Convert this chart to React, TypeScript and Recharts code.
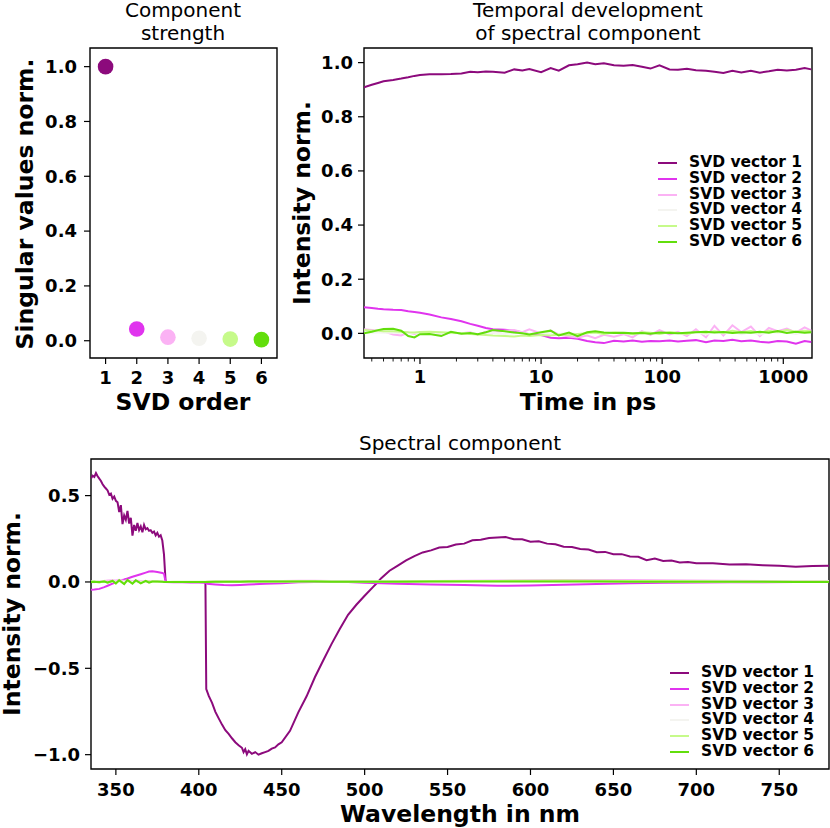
import React from 'react';
import { ScatterChart, Scatter, Cell, LineChart, Line, XAxis, YAxis, ReferenceArea } from 'recharts';

const FONT = '"DejaVu Sans", Verdana, sans-serif';
const COLORS = ['#8c0a7c', '#e034ee', '#fbb2f4', '#f4f4f0', '#c6fa8a', '#62de0c'];
const NAMES = ['SVD vector 1', 'SVD vector 2', 'SVD vector 3', 'SVD vector 4', 'SVD vector 5', 'SVD vector 6'];

// component strength
const svdOrder = [1, 2, 3, 4, 5, 6];
const singularValues = [1.0, 0.043, 0.013, 0.009, 0.006, 0.004];

// temporal development, time in ps
const times = [0.345, 0.4, 0.45, 0.5, 0.6, 0.7, 0.8, 0.9, 1, 1.2, 1.5, 1.8, 2.2, 2.6, 3, 3.5, 4, 5, 6, 7, 8, 10, 12, 14, 17, 20, 24, 28, 33, 40, 48, 57, 68, 80, 95, 115, 135, 160, 190, 230, 270, 320, 380, 450, 540, 640, 760, 900, 1070, 1270, 1500, 1700];
const temporal1 = [0.909, 0.918, 0.925, 0.931, 0.936, 0.941, 0.946, 0.951, 0.954, 0.957, 0.957, 0.958, 0.96, 0.966, 0.964, 0.967, 0.966, 0.963, 0.975, 0.971, 0.976, 0.965, 0.98, 0.97, 0.99, 0.994, 1.0, 0.994, 0.998, 0.99, 0.988, 0.991, 0.985, 0.978, 0.99, 0.975, 0.974, 0.977, 0.972, 0.97, 0.966, 0.962, 0.97, 0.964, 0.97, 0.963, 0.968, 0.974, 0.971, 0.974, 0.98, 0.975];
const temporal2 = [0.096, 0.094, 0.091, 0.089, 0.087, 0.086, 0.082, 0.079, 0.076, 0.07, 0.059, 0.053, 0.045, 0.035, 0.028, 0.02, 0.015, 0.013, 0.01, 0.003, -0.003, -0.006, -0.016, -0.018, -0.016, -0.02, -0.028, -0.033, -0.036, -0.027, -0.03, -0.026, -0.031, -0.028, -0.029, -0.026, -0.03, -0.027, -0.025, -0.033, -0.026, -0.028, -0.024, -0.029, -0.026, -0.031, -0.034, -0.028, -0.03, -0.038, -0.028, -0.032];
const temporal3 = [0.015, 0.012, 0.01, 0.008, -0.004, -0.008, 0.003, -0.002, 0.004, 0.001, -0.003, 0.002, 0.0, 0.004, -0.005, 0.006, 0.002, 0.01, 0.012, 0.004, 0.015, 0.0, 0.01, -0.004, -0.012, -0.015, -0.008, -0.018, -0.005, -0.012, -0.003, -0.015, 0.008, -0.006, 0.012, -0.004, 0.006, -0.01, 0.015, -0.015, 0.028, -0.008, 0.03, 0.005, 0.025, -0.01, 0.02, 0.008, 0.018, 0.003, 0.022, 0.01];
const temporal4 = [0.004, 0.003, 0.003, 0.002, 0.002, 0.001, 0.0, 0.001, 0.002, 0.0, -0.001, 0.001, 0.0, 0.002, -0.002, 0.001, 0.003, -0.002, 0.0, 0.002, -0.001, 0.003, 0.0, -0.002, 0.002, -0.003, 0.001, 0.004, -0.002, 0.002, 0.0, -0.003, 0.003, 0.001, -0.002, 0.004, 0.0, -0.003, 0.005, -0.004, 0.006, 0.0, 0.007, -0.003, 0.005, -0.005, 0.006, 0.002, 0.004, -0.002, 0.005, 0.003];
const temporal5 = [0.012, 0.01, 0.01, 0.008, 0.008, 0.006, 0.004, 0.003, 0.005, 0.006, 0.004, 0.002, 0.0, -0.002, -0.004, -0.006, -0.008, -0.01, -0.012, -0.008, -0.01, -0.006, -0.008, -0.004, -0.006, -0.002, 0.0, 0.003, -0.002, 0.004, 0.001, -0.003, 0.004, 0.002, -0.002, 0.005, 0.001, -0.002, 0.006, 0.002, 0.008, 0.003, 0.01, 0.004, 0.009, 0.002, 0.01, 0.005, 0.012, 0.006, 0.01, 0.008];
const temporal6 = [0.0, 0.006, 0.012, 0.016, 0.017, 0.01, -0.01, -0.015, -0.003, -0.002, -0.01, 0.006, -0.001, 0.001, -0.003, 0.004, 0.012, 0.008, 0.003, 0.0, -0.004, 0.004, 0.01, -0.008, 0.003, -0.01, 0.004, 0.008, 0.003, 0.001, 0.002, 0.0, 0.001, -0.001, 0.003, 0.001, 0.0, 0.002, 0.004, 0.006, 0.003, 0.005, 0.001, 0.004, 0.002, 0.006, 0.002, 0.009, 0.001, 0.006, 0.002, 0.004];
const timeMajor = [1, 10, 100, 1000];
const timeMinor = [0.4, 0.5, 0.6, 0.7, 0.8, 0.9, 2, 3, 4, 5, 6, 7, 8, 9, 20, 30, 40, 50, 60, 70, 80, 90, 200, 300, 400, 500, 600, 700, 800, 900];

// spectral component, wavelength in nm
const wavelength1 = [335, 336, 337, 338, 339, 340, 341, 342, 343, 344, 345, 346, 347, 348, 349, 350, 351, 352, 353, 354, 355, 356, 357, 358, 359, 360, 361, 362, 363, 364, 365, 366, 367, 368, 369, 370, 371, 372, 373, 374, 375, 376, 377, 378, 379, 380, 390, 404, 404.5, 406, 408, 410, 412, 414, 416, 418, 420, 422, 424, 426, 427, 428, 429, 430, 432, 434, 436, 438, 440, 442, 444, 446, 448, 450, 455, 460, 465, 470, 475, 480, 485, 490, 495, 500, 505, 508, 510, 515, 520, 525, 530, 535, 540, 545, 550, 555, 560, 565, 570, 575, 580, 585, 590, 595, 600, 605, 610, 615, 620, 625, 630, 635, 640, 645, 650, 655, 660, 665, 670, 675, 680, 685, 690, 695, 700, 710, 720, 730, 740, 750, 760, 770, 780];
const spectral1 = [0.6, 0.615, 0.608, 0.63, 0.612, 0.598, 0.585, 0.566, 0.552, 0.541, 0.53, 0.505, 0.512, 0.482, 0.495, 0.47, 0.462, 0.405, 0.445, 0.335, 0.385, 0.36, 0.412, 0.338, 0.372, 0.268, 0.33, 0.296, 0.342, 0.3, 0.322, 0.288, 0.33, 0.305, 0.312, 0.296, 0.3, 0.285, 0.292, 0.27, 0.284, 0.262, 0.27, 0.24, 0.16, 0.0, 0.0, 0.0, -0.62, -0.66, -0.7, -0.752, -0.79, -0.826, -0.858, -0.88, -0.905, -0.928, -0.945, -0.96, -0.985, -0.968, -0.998, -0.978, -0.995, -0.985, -1.0, -0.992, -0.985, -0.978, -0.965, -0.958, -0.94, -0.928, -0.862, -0.755, -0.662, -0.552, -0.455, -0.36, -0.272, -0.19, -0.132, -0.08, -0.03, 0.0, 0.022, 0.065, 0.095, 0.125, 0.15, 0.171, 0.183, 0.199, 0.203, 0.217, 0.222, 0.241, 0.245, 0.254, 0.257, 0.26, 0.248, 0.247, 0.233, 0.236, 0.222, 0.218, 0.204, 0.203, 0.191, 0.188, 0.172, 0.174, 0.16, 0.161, 0.148, 0.146, 0.126, 0.136, 0.122, 0.124, 0.113, 0.116, 0.108, 0.109, 0.101, 0.102, 0.097, 0.094, 0.088, 0.092, 0.094, 0.092];
const wavelength = [335, 337, 340, 343, 345, 348, 350, 352, 355, 357, 360, 362, 365, 368, 370, 372, 375, 378, 379, 380, 385, 390, 395, 400, 404, 405, 410, 415, 420, 425, 430, 440, 450, 460, 470, 480, 490, 500, 520, 540, 560, 580, 600, 620, 640, 660, 680, 700, 720, 740, 760, 780];
const spectral2 = [-0.045, -0.044, -0.04, -0.03, -0.022, -0.01, -0.002, 0.006, 0.014, 0.02, 0.03, 0.036, 0.045, 0.054, 0.06, 0.062, 0.058, 0.052, 0.048, 0.0, -0.002, -0.002, -0.003, -0.003, -0.004, -0.01, -0.014, -0.018, -0.019, -0.017, -0.015, -0.011, -0.007, -0.002, 0.0, 0.001, 0.0, -0.004, -0.01, -0.015, -0.018, -0.022, -0.02, -0.016, -0.012, -0.008, -0.005, -0.003, -0.002, -0.001, 0.0, 0.0];
const spectral3 = [0.0, -0.002, 0.004, 0.006, 0.008, 0.01, 0.008, 0.012, 0.006, 0.01, 0.004, 0.008, 0.006, 0.004, 0.006, 0.004, 0.003, 0.002, 0.002, 0.001, 0.0, 0.0, 0.0, 0.0, 0.0, 0.001, 0.002, 0.003, 0.004, 0.004, 0.005, 0.006, 0.006, 0.007, 0.007, 0.006, 0.005, 0.004, 0.004, 0.005, 0.007, 0.008, 0.01, 0.012, 0.012, 0.011, 0.01, 0.008, 0.007, 0.006, 0.006, 0.006];
const spectral4 = [0.002, 0.001, 0.002, 0.001, 0.0, 0.002, 0.001, 0.0, 0.001, 0.002, 0.001, 0.0, 0.001, 0.001, 0.0, 0.001, 0.001, 0.0, 0.0, 0.0, 0.0, 0.0, 0.0, 0.0, 0.0, 0.0, 0.001, 0.001, 0.001, 0.002, 0.002, 0.002, 0.003, 0.003, 0.002, 0.002, 0.002, 0.001, 0.001, 0.002, 0.002, 0.003, 0.003, 0.003, 0.002, 0.002, 0.002, 0.001, 0.001, 0.001, 0.001, 0.001];
const spectral5 = [0.002, 0.003, -0.004, 0.006, -0.006, 0.008, -0.008, 0.01, -0.01, 0.008, -0.008, 0.006, -0.004, 0.004, 0.002, 0.002, 0.001, 0.001, 0.0, 0.0, 0.001, 0.001, 0.001, 0.001, 0.001, 0.002, 0.002, 0.002, 0.002, 0.003, 0.003, 0.003, 0.003, 0.004, 0.004, 0.003, 0.003, 0.003, 0.004, 0.004, 0.005, 0.006, 0.007, 0.008, 0.007, 0.006, 0.005, 0.004, 0.003, 0.003, 0.002, 0.002];
const spectral6 = [0.0, 0.001, 0.0, 0.002, -0.003, 0.006, -0.008, 0.01, -0.012, 0.012, -0.01, 0.01, -0.008, 0.006, -0.004, 0.003, 0.002, 0.001, 0.0, 0.0, 0.0, 0.0, 0.0, 0.0, 0.0, 0.0, 0.001, 0.001, 0.001, 0.001, 0.002, 0.002, 0.002, 0.002, 0.002, 0.001, 0.001, 0.001, 0.001, 0.002, 0.002, 0.002, 0.002, 0.002, 0.002, 0.001, 0.001, 0.001, 0.001, 0.001, 0.0, 0.0];

const strengthPts = svdOrder.map((x, i) => ({ x, y: singularValues[i] }));
const timeRows = times.map((t, i) => ({
  t,
  v1: temporal1[i], v2: temporal2[i], v3: temporal3[i],
  v4: temporal4[i], v5: temporal5[i], v6: temporal6[i],
}));
const spectrum1 = wavelength1.map((x, i) => ({ x, y: spectral1[i] }));
const spectraRest = [spectral2, spectral3, spectral4, spectral5, spectral6].map((s) =>
  wavelength.map((x, i) => ({ x, y: s[i] }))
);

const tickStyle = { fontFamily: FONT, fontSize: 18, fontWeight: 'bold', fill: '#000' };
const tickLine = { stroke: '#000', strokeWidth: 1.2 };
const fmt1 = (v: number) => (v < 0 ? '\u2212' + Math.abs(v).toFixed(1) : v.toFixed(1));

const Dot = (p: any) => <circle cx={p.cx} cy={p.cy} r={7.8} fill={p.fill} />;

const LogTick = (p: any) => {
  const { x, y, payload } = p;
  const major = timeMajor.includes(payload.value);
  return (
    <g>
      <line x1={x} x2={x} y1={y} y2={y + (major ? 6 : 3.5)} stroke="#000" strokeWidth={major ? 1.2 : 0.9} />
      {major && (
        <text x={x} y={y + 12} dy="0.71em" textAnchor="middle" {...tickStyle}>
          {payload.value}
        </text>
      )}
    </g>
  );
};

const LegendBox = ({ left, top }: { left: number; top: number }) => (
  <div style={{ position: 'absolute', left, top, fontFamily: FONT, fontWeight: 'bold', fontSize: 15.5 }}>
    {NAMES.map((n, i) => (
      <div key={n} style={{ display: 'flex', alignItems: 'center', height: 15.9 }}>
        <svg width={19} height={4} style={{ display: 'block' }}>
          <line x1={0} x2={19} y1={2} y2={2} stroke={COLORS[i]} strokeWidth={2} />
        </svg>
        <span style={{ marginLeft: 12, lineHeight: '15.9px', whiteSpace: 'nowrap' }}>{n}</span>
      </div>
    ))}
  </div>
);

export default function App() {
  return (
    <div style={{ position: 'absolute', left: 0, top: 0, width: 830, height: 828, background: '#fff', overflow: 'hidden' }}>
      {/* component strength */}
      <div style={{ position: 'absolute', left: 0, top: 0 }}>
        <ScatterChart width={290} height={420} margin={{ top: 48, right: 13, bottom: 32, left: 0 }}>
          <XAxis type="number" dataKey="x" domain={[0.5, 6.5]} ticks={svdOrder} allowDataOverflow interval={0}
            axisLine={false} tickSize={6} tickMargin={7} tickLine={tickLine} tick={tickStyle} height={30} />
          <YAxis type="number" dataKey="y" domain={[-0.063, 1.068]} ticks={[0, 0.2, 0.4, 0.6, 0.8, 1.0]} allowDataOverflow interval={0}
            tickFormatter={fmt1} axisLine={false} tickSize={6} tickMargin={7} tickLine={tickLine} tick={tickStyle} width={90} />
          <Scatter data={strengthPts} isAnimationActive={false} shape={Dot}>
            {strengthPts.map((_, i) => <Cell key={i} fill={COLORS[i]} />)}
          </Scatter>
          <ReferenceArea x1={0.5} x2={6.5} y1={-0.063} y2={1.068} fill="none" stroke="#000" strokeWidth={1.4} />
        </ScatterChart>
      </div>

      {/* temporal development */}
      <div style={{ position: 'absolute', left: 290, top: 0 }}>
        <LineChart width={540} height={420} data={timeRows} margin={{ top: 48, right: 18, bottom: 32, left: 0 }}>
          <XAxis type="number" dataKey="t" scale="log" domain={[0.345, 1726]} allowDataOverflow interval={0}
            ticks={[...timeMinor, ...timeMajor].sort((a, b) => a - b)} axisLine={false} tickLine={false}
            tickSize={0} tickMargin={0} tick={LogTick} height={30} />
          <YAxis type="number" domain={[-0.091, 1.054]} ticks={[0, 0.2, 0.4, 0.6, 0.8, 1.0]} allowDataOverflow interval={0}
            tickFormatter={fmt1} axisLine={false} tickSize={6} tickMargin={5} tickLine={tickLine} tick={tickStyle} width={74} />
          {['v1', 'v2', 'v3', 'v4', 'v5', 'v6'].map((k, i) => (
            <Line key={k} dataKey={k} stroke={COLORS[i]} strokeWidth={2} dot={false} isAnimationActive={false} />
          ))}
          <ReferenceArea x1={0.345} x2={1726} y1={-0.091} y2={1.054} fill="none" stroke="#000" strokeWidth={1.4} />
        </LineChart>
      </div>

      {/* spectral component */}
      <div style={{ position: 'absolute', left: 0, top: 420 }}>
        <LineChart width={830} height={408} margin={{ top: 39, right: 1, bottom: 29, left: 0 }}>
          <XAxis type="number" dataKey="x" domain={[335, 780]} ticks={[350, 400, 450, 500, 550, 600, 650, 700, 750]} allowDataOverflow interval={0}
            axisLine={false} tickSize={6} tickMargin={8} tickLine={tickLine} tick={tickStyle} height={30} />
          <YAxis type="number" dataKey="y" domain={[-1.083, 0.712]} ticks={[-1.0, -0.5, 0, 0.5]} allowDataOverflow interval={0}
            tickFormatter={fmt1} axisLine={false} tickSize={6} tickMargin={5} tickLine={tickLine} tick={tickStyle} width={91} />
          <Line data={spectrum1} dataKey="y" stroke={COLORS[0]} strokeWidth={2} dot={false} isAnimationActive={false} />
          {spectraRest.map((d, i) => (
            <Line key={i} data={d} dataKey="y" stroke={COLORS[i + 1]} strokeWidth={2} dot={false} isAnimationActive={false} />
          ))}
          <ReferenceArea x1={335} x2={780} y1={-1.083} y2={0.712} fill="none" stroke="#000" strokeWidth={1.4} />
        </LineChart>
      </div>

      <LegendBox left={658} top={154.8} />
      <LegendBox left={670} top={664.8} />

      {/* titles and axis labels */}
      <svg width={830} height={828} style={{ position: 'absolute', left: 0, top: 0, pointerEvents: 'none' }}>
        <g fontFamily={FONT} fontSize={20} textAnchor="middle" fill="#000">
          <text x={183} y={17}>Component</text>
          <text x={183} y={40}>strength</text>
          <text x={588} y={17}>Temporal development</text>
          <text x={588} y={40}>of spectral component</text>
          <text x={460} y={450}>Spectral component</text>
        </g>
        <g fontFamily={FONT} fontSize={23.5} fontWeight="bold" textAnchor="middle" fill="#000">
          <text x={183} y={410}>SVD order</text>
          <text x={588} y={410}>Time in ps</text>
          <text x={460} y={822}>Wavelength in nm</text>
          <text transform="translate(33,204) rotate(-90)">Singular values norm.</text>
          <text transform="translate(310,203) rotate(-90)">Intensity norm.</text>
          <text transform="translate(19.5,614) rotate(-90)">Intensity norm.</text>
        </g>
      </svg>
    </div>
  );
}
